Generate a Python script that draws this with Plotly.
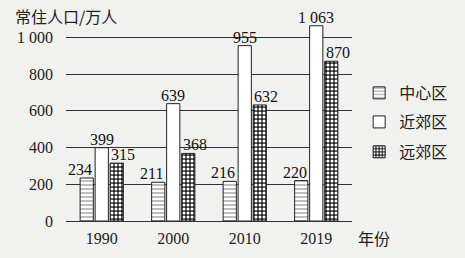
import plotly.graph_objects as go

years = ["1990", "2000", "2010", "2019"]
center = [234, 211, 216, 220]
near = [399, 639, 955, 1063]
far = [315, 368, 632, 870]
series_names = ["中心区", "近郊区", "远郊区"]
ytick_vals = [0, 200, 400, 600, 800, 1000]
ytick_text = ["0", "200", "400", "600", "800", "1 000"]


def fmt(v):
    s = str(v)
    return s if v < 1000 else s[:-3] + " " + s[-3:]


SERIF = "Liberation Serif, Times New Roman, serif"
CJK = "Noto Sans CJK SC"
BG = "#f1f1ef"
BARGAP = 0.37
CAT_PX = 299 / 4

fig = go.Figure()
markers = [
    dict(color="white", line=dict(color="#222", width=1),
         pattern=dict(shape="-", size=4, solidity=0.3, fgcolor="#222", bgcolor="white",
                      fillmode="overlay")),
    dict(color="white", line=dict(color="#222", width=1)),
    dict(color="#222", line=dict(color="#222", width=1),
         pattern=dict(shape=".", size=4, solidity=0.45, fgcolor="white", bgcolor="#222",
                      fillmode="replace")),
]
legend_ids = ["legend", "legend2", "legend3"]
for name, vals, mk, lg in zip(series_names, [center, near, far], markers, legend_ids):
    fig.add_trace(go.Bar(
        x=years, y=vals, name=name, legend=lg,
        cliponaxis=False, marker=mk,
    ))

# value labels placed above each bar (slightly spread outward like the original)
slot_px = (1 - BARGAP) * CAT_PX / 3
label_shift = [-slot_px - 6, 0, slot_px + 6]
for vals, sh in zip([center, near, far], label_shift):
    for i, v in enumerate(vals):
        fig.add_annotation(x=i, y=v, xref="x", yref="y", text=fmt(v),
                           showarrow=False, yanchor="bottom", xanchor="center",
                           xshift=sh, yshift=-2,
                           font=dict(family=SERIF, size=16, color="#111"))

legend_style = dict(x=1.025, xanchor="left", yanchor="middle",
                    font=dict(family=CJK, size=16, color="#222"),
                    bgcolor="rgba(0,0,0,0)", itemwidth=30)
fig.update_layout(
    width=465, height=258,
    margin=dict(l=66, r=100, t=19, b=37),
    paper_bgcolor=BG, plot_bgcolor=BG,
    barmode="group", bargap=BARGAP, bargroupgap=0.12,
    showlegend=True,
    legend=dict(y=0.634, **legend_style),
    legend2=dict(y=0.490, **legend_style),
    legend3=dict(y=0.342, **legend_style),
    font=dict(family=SERIF, color="#222"),
)
fig.update_xaxes(type="category", range=[-0.5, 3.5], showgrid=False, showline=False,
                 ticks="", tickfont=dict(family=SERIF, size=16, color="#222"),
                 ticklabelstandoff=6)
fig.update_yaxes(range=[0, 1100], tickvals=ytick_vals, ticktext=ytick_text,
                 showgrid=True, gridcolor="#333", gridwidth=1.3,
                 zeroline=True, zerolinecolor="#333", zerolinewidth=1.3,
                 showline=False, ticks="", ticklabelstandoff=12,
                 tickfont=dict(family=SERIF, size=16, color="#222"))

fig.add_annotation(text="常住人口/万人", xref="paper", yref="paper",
                   x=-66 / 299, y=1.0, xanchor="left", yanchor="middle",
                   xshift=10, yshift=3, showarrow=False,
                   font=dict(family=CJK, size=16, color="#222"))
fig.add_annotation(text="年份", xref="paper", yref="paper",
                   x=1.0, y=0, xanchor="left", yanchor="middle",
                   xshift=4, yshift=-17, showarrow=False,
                   font=dict(family=CJK, size=16, color="#222"))

fig.write_html("out.html")
